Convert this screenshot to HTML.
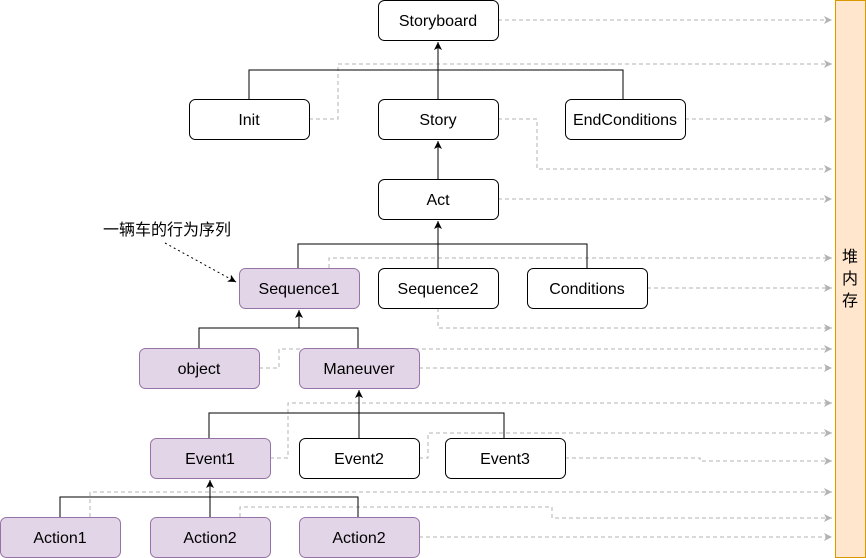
<!DOCTYPE html>
<html><head><meta charset="utf-8"><style>
body{margin:0;background:#fff;width:866px;height:558px;overflow:hidden}
svg{display:block}
text{font-family:"Liberation Sans","Noto Sans CJK SC",sans-serif;font-size:16px;fill:#000}
</style></head><body>
<svg width="866" height="558" viewBox="0 0 866 558">
<defs>
<marker id="a" markerWidth="10" markerHeight="10" refX="8" refY="5" orient="auto" markerUnits="userSpaceOnUse"><path d="M0,1 L8,5 L0,9 L2,5 Z" fill="#000"/></marker>
<marker id="g" markerWidth="10" markerHeight="10" refX="8" refY="5" orient="auto" markerUnits="userSpaceOnUse"><path d="M0,1 L8,5 L0,9 L2,5 Z" fill="#b3b3b3"/></marker>
</defs>
<rect x="835.5" y="0.5" width="30" height="557" fill="#ffe6cc" stroke="#d79b00"/>
<text x="850" y="262" text-anchor="middle">堆</text>
<text x="850" y="284" text-anchor="middle">内</text>
<text x="850" y="306" text-anchor="middle">存</text>
<g fill="none" stroke="#b3b3b3" stroke-dasharray="4 3" marker-end="url(#g)">
<path d="M498,20 H832"/>
<path d="M309,119 H338 V64 H832"/>
<path d="M685,119 H832"/>
<path d="M498,119 H537 V169 H832"/>
<path d="M498,199 H832"/>
<path d="M329,268 V258 H832"/>
<path d="M647,288 H832"/>
<path d="M438,308 V328 H832"/>
<path d="M259,368 H279 V349 H832"/>
<path d="M419,368 H832"/>
<path d="M270,458 H288 V403 H832"/>
<path d="M419,458 H428 V433 H832"/>
<path d="M565,458 H700 V461 H832"/>
<path d="M90,517 V492 H832"/>
<path d="M240,517 V507 H552 V518 H832"/>
<path d="M419,537 H832"/>
</g>
<g fill="none" stroke="#000" stroke-width="1">
<path d="M249,99 V70 H623 V99"/>
<path d="M438,99 V42" marker-end="url(#a)"/>
<path d="M438,179 V141" marker-end="url(#a)"/>
<path d="M298,268 V244 H587 V268"/>
<path d="M438,268 V221" marker-end="url(#a)"/>
<path d="M199,348 V328 H358 V348"/>
<path d="M299,328 V310" marker-end="url(#a)"/>
<path d="M209,438 V413 H504 V438"/>
<path d="M359,438 V390" marker-end="url(#a)"/>
<path d="M60,517 V497 H358 V517"/>
<path d="M210,517 V480" marker-end="url(#a)"/>
<path d="M165,243 L236,282" stroke-dasharray="2 3" marker-end="url(#a)"/>
</g>
<text x="103" y="235">一辆车的行为序列</text>
<g stroke-width="1">
<g fill="#fff" stroke="#000">
<rect x="378.5" y="0.5" width="120" height="40" rx="6"/>
<rect x="189.5" y="99.5" width="120" height="40" rx="6"/>
<rect x="378.5" y="99.5" width="120" height="40" rx="6"/>
<rect x="565.5" y="99.5" width="120" height="40" rx="6"/>
<rect x="378.5" y="179.5" width="120" height="40" rx="6"/>
<rect x="378.5" y="268.5" width="120" height="40" rx="6"/>
<rect x="527.5" y="268.5" width="120" height="40" rx="6"/>
<rect x="299.5" y="438.5" width="120" height="40" rx="6"/>
<rect x="445.5" y="438.5" width="120" height="40" rx="6"/>
</g>
<g fill="#e1d5e7" stroke="#9673a6">
<rect x="239.5" y="268.5" width="120" height="40" rx="6"/>
<rect x="139.5" y="348.5" width="120" height="40" rx="6"/>
<rect x="299.5" y="348.5" width="120" height="40" rx="6"/>
<rect x="150.5" y="438.5" width="120" height="40" rx="6"/>
<rect x="0.5" y="517.5" width="120" height="40" rx="6"/>
<rect x="150.5" y="517.5" width="120" height="40" rx="6"/>
<rect x="299.5" y="517.5" width="120" height="40" rx="6"/>
</g>
</g>
<g text-anchor="middle">
<text x="438" y="26">Storyboard</text>
<text x="249" y="125">Init</text>
<text x="438" y="125">Story</text>
<text x="625" y="125">EndConditions</text>
<text x="438" y="205">Act</text>
<text x="299" y="294">Sequence1</text>
<text x="438" y="294">Sequence2</text>
<text x="587" y="294">Conditions</text>
<text x="199" y="374">object</text>
<text x="359" y="374">Maneuver</text>
<text x="210" y="464">Event1</text>
<text x="359" y="464">Event2</text>
<text x="505" y="464">Event3</text>
<text x="60" y="543">Action1</text>
<text x="210" y="543">Action2</text>
<text x="359" y="543">Action2</text>
</g>
</svg>
</body></html>
